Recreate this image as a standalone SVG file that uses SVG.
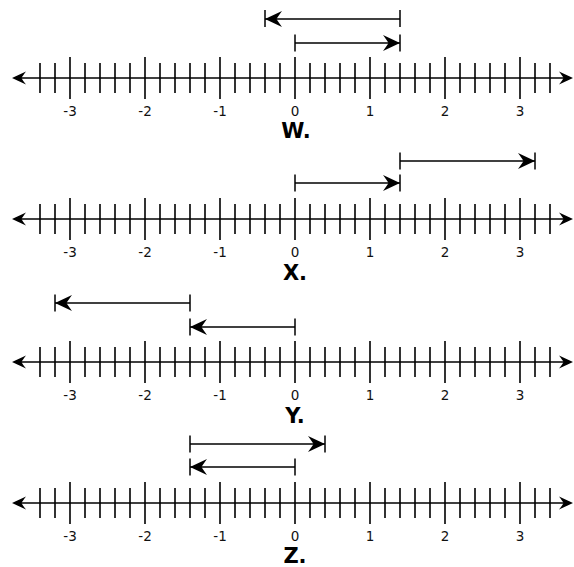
<svg xmlns="http://www.w3.org/2000/svg" xmlns:xlink="http://www.w3.org/1999/xlink" width="574" height="567" viewBox="0 0 574 567">
<style>
.tk{stroke:#000;stroke-width:1.6;fill:none}
.ax{stroke:#000;stroke-width:1.6;fill:none}
.seg{stroke:#000;stroke-width:1.5;fill:none}
.hd{fill:#000;stroke:none}
.num{font-family:"DejaVu Sans",Verdana,sans-serif;font-size:13.5px;fill:#111;text-anchor:middle}
.ttl{font-family:"DejaVu Sans",Verdana,sans-serif;font-size:21px;font-weight:bold;fill:#000;text-anchor:middle}
</style>
<defs>
<marker id="ah" viewBox="-18 -9 19 18" refX="0" refY="0" markerWidth="19" markerHeight="18" markerUnits="userSpaceOnUse" orient="auto">
<path class="hd" d="M0,0 L-17,-8 Q-13,-2.5 -11.5,0 Q-13,2.5 -17,8 Z"/>
</marker>
<g id="numline">
<path class="ax" d="M20,0 H566"/>
<path class="hd" d="M12,0 L26,-6.5 Q22.5,-2 21.5,0 Q22.5,2 26,6.5 Z"/>
<path class="hd" d="M573,0 L559,-6.5 Q562.5,-2 563.5,0 Q562.5,2 559,6.5 Z"/>
<path class="tk" d="M40,-15v30M55,-15v30M85,-15v30M100,-15v30M115,-15v30M130,-15v30M160,-15v30M175,-15v30M190,-15v30M205,-15v30M235,-15v30M250,-15v30M265,-15v30M280,-15v30M310,-15v30M325,-15v30M340,-15v30M355,-15v30M385,-15v30M400,-15v30M415,-15v30M430,-15v30M460,-15v30M475,-15v30M490,-15v30M505,-15v30M535,-15v30M550,-15v30"/>
<path class="tk" d="M70,-21v42M145,-21v42M220,-21v42M295,-21v42M370,-21v42M445,-21v42M520,-21v42"/>
<text class="num" x="70" y="38">-3</text>
<text class="num" x="145" y="38">-2</text>
<text class="num" x="220" y="38">-1</text>
<text class="num" x="295" y="38">0</text>
<text class="num" x="370" y="38">1</text>
<text class="num" x="445" y="38">2</text>
<text class="num" x="520" y="38">3</text>
</g>
</defs>

<g id="panel-W" transform="translate(0,78)">
<use xlink:href="#numline" href="#numline"/>
<g id="W-arrows">
<path class="seg" d="M400,-59 H265" marker-end="url(#ah)"/>
<path class="seg" d="M265,-68v17M400,-68v17"/>
<path class="seg" d="M295,-35 H400" marker-end="url(#ah)"/>
<path class="seg" d="M295,-43.5v17M400,-43.5v17"/>
</g>
<text class="ttl" x="296" y="60">W.</text>
</g>

<g id="panel-X" transform="translate(0,219)">
<use xlink:href="#numline" href="#numline"/>
<g id="X-arrows">
<path class="seg" d="M400,-58 H535" marker-end="url(#ah)"/>
<path class="seg" d="M400,-66.5v17M535,-66.5v17"/>
<path class="seg" d="M295,-36 H400" marker-end="url(#ah)"/>
<path class="seg" d="M295,-44.5v17M400,-44.5v17"/>
</g>
<text class="ttl" x="295" y="61">X.</text>
</g>

<g id="panel-Y" transform="translate(0,362)">
<use xlink:href="#numline" href="#numline"/>
<g id="Y-arrows">
<path class="seg" d="M190,-59 H55" marker-end="url(#ah)"/>
<path class="seg" d="M55,-67.5v17M190,-67.5v17"/>
<path class="seg" d="M295,-35 H190" marker-end="url(#ah)"/>
<path class="seg" d="M295,-43.5v17M190,-43.5v17"/>
</g>
<text class="ttl" x="295" y="61">Y.</text>
</g>

<g id="panel-Z" transform="translate(0,503)">
<use xlink:href="#numline" href="#numline"/>
<g id="Z-arrows">
<path class="seg" d="M190,-59 H325" marker-end="url(#ah)"/>
<path class="seg" d="M190,-67.5v17M325,-67.5v17"/>
<path class="seg" d="M295,-36 H190" marker-end="url(#ah)"/>
<path class="seg" d="M295,-44.5v17M190,-44.5v17"/>
</g>
<text class="ttl" x="295" y="60">Z.</text>
</g>
</svg>
